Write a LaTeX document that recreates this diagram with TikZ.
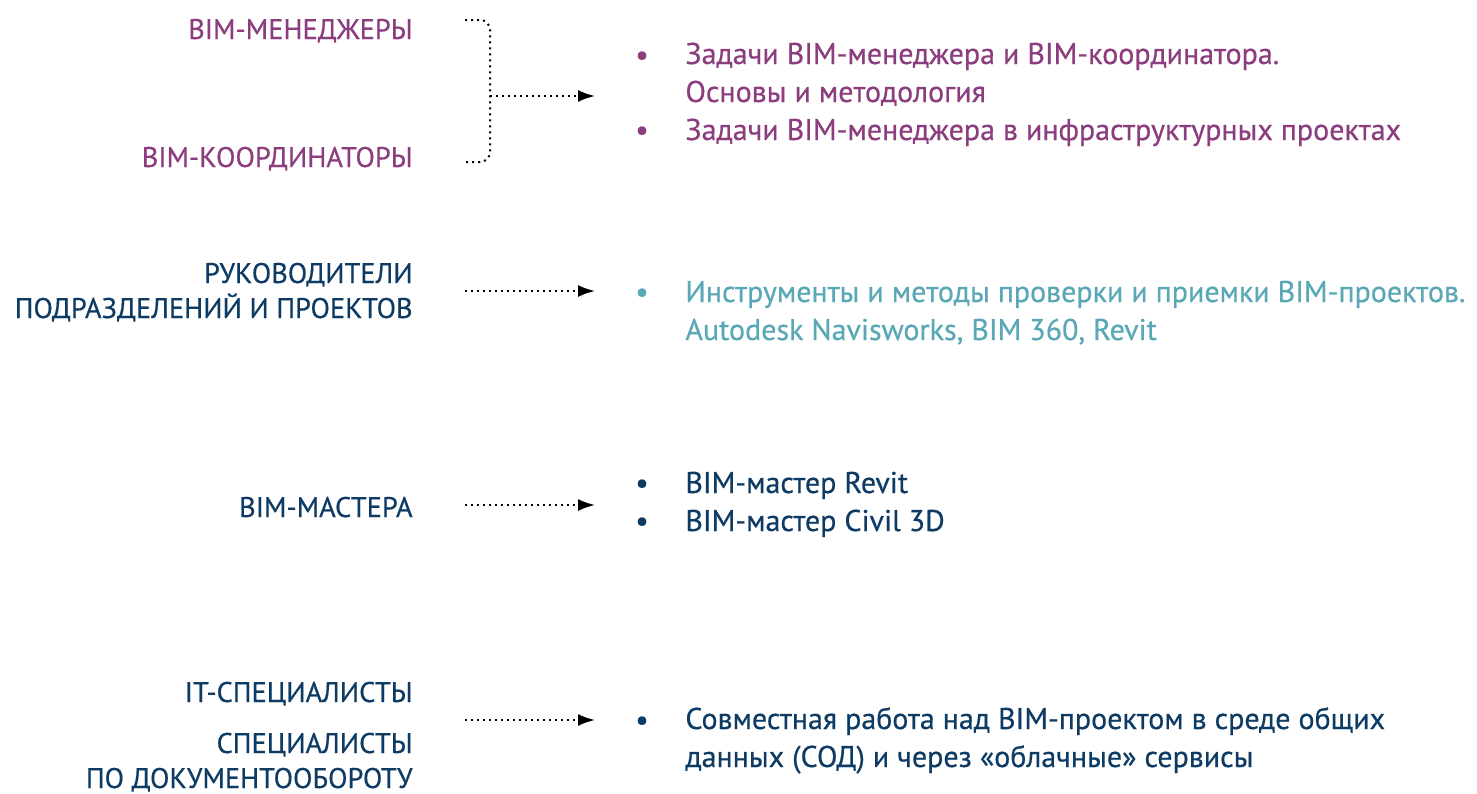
\documentclass[tikz,border=0pt]{standalone}
\usepackage{fontspec}
\setmainfont{PT Sans}[BoldFont = PT Sans, BoldFeatures = {FakeBold = 0.5}]
\usetikzlibrary{arrows.meta}

\definecolor{bimpurple}{HTML}{8B3D7E}
\definecolor{bimteal}{HTML}{5AA8B5}
\definecolor{bimnavy}{HTML}{0E3B64}

\begin{document}
\begin{tikzpicture}[x = 0.5pt, y = -0.5pt,
    group/.style = {anchor = base east, align = right, inner sep = 0pt, font = \fontsize{14.2}{17.5}\selectfont\bfseries},
    item/.style  = {anchor = base west, align = left, inner sep = 0pt, font = \fontsize{15}{19}\selectfont\bfseries},
    bullet/.style = {anchor = base, inner sep = 0pt, font = \fontsize{15}{19}\selectfont\bfseries},
    link/.style  = {dotted, line width = 1pt, -{Latex[length = 8.5pt, width = 6pt]}}]

    \def\groupx {413}  % right edge of the groups
    \def\bulletx {642}
    \def\itemx {685}
    \def\arrowx {465}
    \def\tipx {595}

    \useasboundingbox (0, 0) rectangle (1477, 793);

    % managers and coordinators (multi-line nodes sit on their last line)
    \node [group, bimpurple] (managers) at (\groupx, 39) {BIM-МЕНЕДЖЕРЫ};
    \node [group, bimpurple] (coordinators) at (\groupx, 167) {BIM-КООРДИНАТОРЫ};
    \node [bullet, bimpurple] (dot1a) at (\bulletx, 65) {•};
    \node [item, bimpurple] (course1a) at (\itemx, 102) {Задачи BIM-менеджера и BIM-координатора.\\Основы и методология};
    \node [bullet, bimpurple] (dot1b) at (\bulletx, 140) {•};
    \node [item, bimpurple] (course1b) at (\itemx, 140) {Задачи BIM-менеджера в инфраструктурных проектах};

    \coordinate (brace top) at (\arrowx, 20);
    \coordinate (brace bottom) at (\arrowx, 162);
    \coordinate (brace join) at (490, 96);
    \coordinate (tip1) at (\tipx, 96);
    \draw [dotted, line width = 1pt, rounded corners = 5pt] (brace top) -| (brace join) |- (brace bottom);
    \draw [link] (brace join) -- (tip1);

    % heads
    \node [group, bimnavy] (heads) at (\groupx, 318) {РУКОВОДИТЕЛИ\\ПОДРАЗДЕЛЕНИЙ И ПРОЕКТОВ};
    \node [bullet, bimteal] (dot2) at (\bulletx, 302) {•};
    \node [item, bimteal] (course2) at (\itemx, 340) {Инструменты и методы проверки и приемки BIM-проектов.\\Autodesk Navisworks, BIM 360, Revit};
    \coordinate (start2) at (\arrowx, 291);
    \coordinate (tip2) at (\tipx, 291);
    \draw [link] (start2) -- (tip2);

    % masters
    \node [group, bimnavy] (masters) at (\groupx, 517) {BIM-МАСТЕРА};
    \node [bullet, bimnavy] (dot3a) at (\bulletx, 493) {•};
    \node [item, bimnavy] (course3a) at (\itemx, 493) {BIM-мастер Revit};
    \node [bullet, bimnavy] (dot3b) at (\bulletx, 531) {•};
    \node [item, bimnavy] (course3b) at (\itemx, 531) {BIM-мастер Civil 3D};
    \coordinate (start3) at (\arrowx, 505);
    \coordinate (tip3) at (\tipx, 505);
    \draw [link] (start3) -- (tip3);

    % it and document flow
    \node [group, bimnavy] (it) at (\groupx, 702) {IT-СПЕЦИАЛИСТЫ};
    \node [group, bimnavy] (docflow) at (\groupx, 788) {СПЕЦИАЛИСТЫ\\ПО ДОКУМЕНТООБОРОТУ};
    \node [bullet, bimnavy] (dot4) at (\bulletx, 730) {•};
    \node [item, bimnavy] (course4) at (\itemx, 767) {Совместная работа над BIM-проектом в среде общих\\данных (СОД) и через «облачные» сервисы};
    \coordinate (start4) at (\arrowx, 720);
    \coordinate (tip4) at (\tipx, 720);
    \draw [link] (start4) -- (tip4);
\end{tikzpicture}
\end{document}
